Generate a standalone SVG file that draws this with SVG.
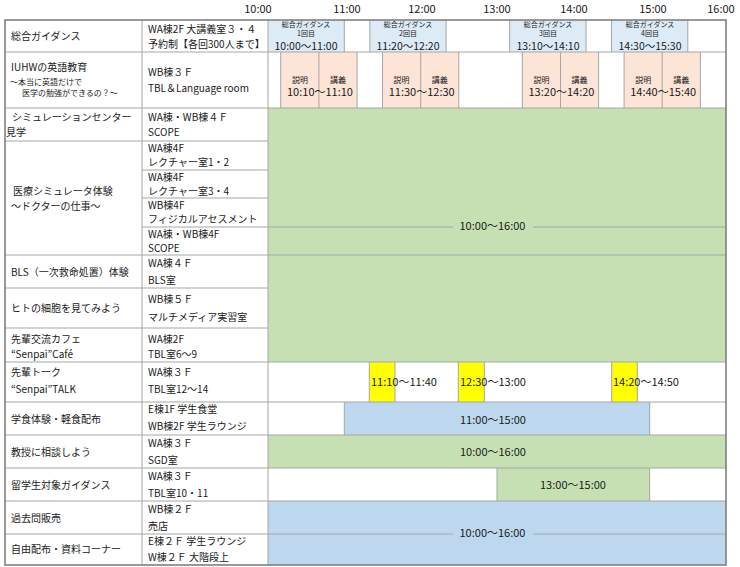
<svg xmlns="http://www.w3.org/2000/svg" width="740" height="567" viewBox="0 0 740 567">
<style>
text{font-family:"Noto Sans CJK JP","Noto Sans",sans-serif;fill:#1a1a1a}
.t{font-size:10px}
.s{font-size:8px}
.xs{font-size:7px}
.h{font-size:11px;text-anchor:middle}
.tm{font-size:11px}
.tb{font-size:10.5px}
.c{text-anchor:middle}
.g{fill:#C6E0B4}
.b{fill:#BDD7EE}
.lb{fill:#DDEBF7}
.pk{fill:#FCE4D6}
.y{fill:#FFFF00}
.ln{stroke:#A6A6A6;stroke-width:1;fill:none}
</style>
<rect width="740" height="567" fill="#fff"/>
<g id="hours">
<text class="h" x="258" y="13">10:00</text>
<text class="h" x="347" y="13">11:00</text>
<text class="h" x="422" y="13">12:00</text>
<text class="h" x="497" y="13">13:00</text>
<text class="h" x="574" y="13">14:00</text>
<text class="h" x="653" y="13">15:00</text>
<text class="h" x="721" y="13">16:00</text>
</g>
<g id="fills">
<rect class="lb" x="268" y="20" width="76.3" height="32"/>
<rect class="lb" x="369.8" y="20" width="76.3" height="32"/>
<rect class="lb" x="509.7" y="20" width="76.3" height="32"/>
<rect class="lb" x="611.5" y="20" width="76.3" height="32"/>
<rect class="pk" x="280.7" y="52" width="76.3" height="56"/>
<rect class="pk" x="382.5" y="52" width="76.3" height="56"/>
<rect class="pk" x="522.3" y="52" width="76.3" height="56"/>
<rect class="pk" x="624.1" y="52" width="76.3" height="56"/>
<rect class="g" x="268" y="108" width="458" height="254"/>
<rect class="y" x="369.3" y="362" width="25.7" height="40"/>
<rect class="y" x="458.3" y="362" width="26" height="40"/>
<rect class="y" x="611.7" y="362" width="25.6" height="40"/>
<rect class="b" x="344.3" y="402" width="305.4" height="33"/>
<rect class="g" x="268" y="435" width="458" height="33"/>
<rect class="g" x="497" y="468" width="152.7" height="33"/>
<rect class="b" x="268" y="501" width="458" height="64"/>
</g>
<g id="connectors">
<path class="ln" d="M142 20V565M268 20V565"/>
<path class="ln" d="M5 52H726M5 108H726M5 141H268M142 170H268M142 198H268M142 227H268M5 255H268M5 288H268M5 328H268M5 362H726M5 402H726M5 435H726M5 468H726M5 501H726M5 534H726"/>
<path class="ln" d="M268 227H726M268 255H726"/>
<path class="ln" d="M344.3 20V52M369.8 20V52M446.1 20V52M509.7 20V52M586.1 20V52M611.5 20V52M687.8 20V52"/>
<path class="ln" d="M280.7 52V108M318.9 52V108M357.1 52V108M382.5 52V108M420.7 52V108M458.8 52V108M522.3 52V108M560.5 52V108M598.6 52V108M624.1 52V108M662.2 52V108M700.4 52V108"/>
<path class="ln" d="M369.3 362V402M395 362V402M458.3 362V402M484.3 362V402M611.7 362V402M637.3 362V402"/>
<path class="ln" d="M344.3 402V435M649.7 402V435M497 468V501M649.7 468V501"/>
<rect x="5" y="20" width="721" height="545" fill="none" stroke="#808080" stroke-width="1.6"/>
</g>
<g id="r-guidance">
<text class="t" x="11" y="40">総合ガイダンス</text>
<text class="t" x="148" y="33">WA棟2F 大講義室３・４</text>
<text class="t" x="148" y="48">予約制【各回300人まで】</text>
<text class="xs c" x="306" y="27">総合ガイダンス</text><text class="xs c" x="306" y="36">1回目</text><text class="tb c" x="306" y="49.5">10:00〜11:00</text>
<text class="xs c" x="408" y="27">総合ガイダンス</text><text class="xs c" x="408" y="36">2回目</text><text class="tb c" x="408" y="49.5">11:20〜12:20</text>
<text class="xs c" x="548" y="27">総合ガイダンス</text><text class="xs c" x="548" y="36">3回目</text><text class="tb c" x="548" y="49.5">13:10〜14:10</text>
<text class="xs c" x="650" y="27">総合ガイダンス</text><text class="xs c" x="650" y="36">4回目</text><text class="tb c" x="650" y="49.5">14:30〜15:30</text>
</g>
<g id="r-english">
<text class="t" x="11" y="71">IUHWの英語教育</text>
<text class="s" x="10" y="85">〜本当に英語だけで</text>
<text class="s" x="22" y="96">医学の勉強ができるの？〜</text>
<text class="t" x="148" y="76">WB棟３Ｆ</text>
<text class="t" x="148" y="92">TBL＆Language room</text>
<text class="s c" x="300" y="82.5">説明</text><text class="s c" x="338" y="82.5">講義</text><text class="tm c" x="320" y="96">10:10〜11:10</text>
<text class="s c" x="401.6" y="82.5">説明</text><text class="s c" x="439.8" y="82.5">講義</text><text class="tm c" x="421.7" y="96">11:30〜12:30</text>
<text class="s c" x="541.4" y="82.5">説明</text><text class="s c" x="579.6" y="82.5">講義</text><text class="tm c" x="561.5" y="96">13:20〜14:20</text>
<text class="s c" x="643.2" y="82.5">説明</text><text class="s c" x="681.3" y="82.5">講義</text><text class="tm c" x="663.2" y="96">14:40〜15:40</text>
</g>
<g id="r-simcenter">
<text class="t" x="12" y="121">シミュレーションセンター</text>
<text class="t" x="6" y="136">見学</text>
<text class="t" x="148" y="121">WA棟・WB棟４Ｆ</text>
<text class="t" x="148" y="136">SCOPE</text>
</g>
<g id="r-simulator">
<text class="t" x="13" y="195">医療シミュレータ体験</text>
<text class="t" x="11" y="210">〜ドクターの仕事〜</text>
<text class="t" x="148" y="152">WA棟4F</text><text class="t" x="148" y="166">レクチャー室1・2</text>
<text class="t" x="148" y="181">WA棟4F</text><text class="t" x="148" y="195">レクチャー室3・4</text>
<text class="t" x="148" y="209">WB棟4F</text><text class="t" x="148" y="223">フィジカルアセスメント</text>
<text class="t" x="148" y="238">WA棟・WB棟4F</text><text class="t" x="148" y="252">SCOPE</text>
<rect class="g" x="453" y="218" width="80" height="16"/>
<text class="tm c" x="492.5" y="229.5">10:00〜16:00</text>
</g>
<g id="r-bls">
<text class="t" x="11" y="276">BLS（一次救命処置）体験</text>
<text class="t" x="148" y="267">WA棟４Ｆ</text>
<text class="t" x="148" y="284">BLS室</text>
</g>
<g id="r-cell">
<text class="t" x="11" y="312">ヒトの細胞を見てみよう</text>
<text class="t" x="148" y="303">WB棟５Ｆ</text>
<text class="t" x="148" y="321">マルチメディア実習室</text>
</g>
<g id="r-cafe">
<text class="t" x="11" y="343">先輩交流カフェ</text>
<text class="t" x="11" y="358">“Senpai”Café</text>
<text class="t" x="148" y="343">WA棟2F</text>
<text class="t" x="148" y="358">TBL室6〜9</text>
</g>
<g id="r-talk">
<text class="t" x="11" y="376">先輩トーク</text>
<text class="t" x="11" y="393">“Senpai”TALK</text>
<text class="t" x="148" y="376">WA棟３Ｆ</text>
<text class="t" x="148" y="393">TBL室12〜14</text>
<text class="tm" x="371" y="386">11:10〜11:40</text>
<text class="tm" x="460" y="386">12:30〜13:00</text>
<text class="tm" x="613" y="386">14:20〜14:50</text>
</g>
<g id="r-food">
<text class="t" x="11" y="423">学食体験・軽食配布</text>
<text class="t" x="148" y="413">E棟1F 学生食堂</text>
<text class="t" x="148" y="430">WB棟2F 学生ラウンジ</text>
<text class="tm c" x="493" y="424">11:00〜15:00</text>
</g>
<g id="r-prof">
<text class="t" x="11" y="456">教授に相談しよう</text>
<text class="t" x="148" y="447">WA棟３Ｆ</text>
<text class="t" x="148" y="464">SGD室</text>
<text class="tm c" x="493" y="456">10:00〜16:00</text>
</g>
<g id="r-intl">
<text class="t" x="11" y="489">留学生対象ガイダンス</text>
<text class="t" x="148" y="480">WA棟３Ｆ</text>
<text class="t" x="148" y="497">TBL室10・11</text>
<text class="tm c" x="573" y="489">13:00〜15:00</text>
</g>
<g id="r-exam">
<text class="t" x="11" y="522">過去問販売</text>
<text class="t" x="148" y="513">WB棟２Ｆ</text>
<text class="t" x="148" y="530">売店</text>
</g>
<g id="r-free">
<text class="t" x="11" y="553">自由配布・資料コーナー</text>
<text class="t" x="148" y="545">E棟２Ｆ 学生ラウンジ</text>
<text class="t" x="148" y="561">W棟２Ｆ 大階段上</text>
<rect class="b" x="453" y="526" width="80" height="15"/>
<text class="tm c" x="492.5" y="537">10:00〜16:00</text>
</g>
</svg>
